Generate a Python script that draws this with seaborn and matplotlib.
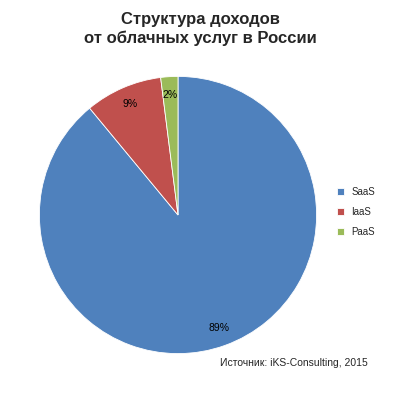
import matplotlib
matplotlib.use("Agg")
import matplotlib.pyplot as plt
import seaborn as sns

categories = ["SaaS", "IaaS", "PaaS"]
shares = [89, 9, 2]
colors = ["#4F81BD", "#C0504D", "#9BBB59"]

sns.set_theme(style="white")
plt.rcParams['font.family'] = ['Liberation Sans', 'DejaVu Sans']

fig = plt.figure(figsize=(4, 4), dpi=100)
ax = fig.add_axes([0.095, 0.1125, 0.70, 0.70])
wedges, texts, autotexts = ax.pie(
    shares, colors=colors, startangle=90, counterclock=False,
    autopct="%d%%", pctdistance=0.87,
    wedgeprops=dict(linewidth=0.6, edgecolor="white"),
    textprops=dict(fontsize=7.5, color="black"))
ax.set_xlim(-1.01, 1.01)
ax.set_ylim(-1.01, 1.01)
ax.set_aspect("equal")

fig.text(0.5, 0.97, "Структура доходов\nот облачных услуг в России",
         ha="center", va="top", fontsize=12, fontweight="bold", linespacing=1.3)
fig.legend(wedges, categories, loc="center left", bbox_to_anchor=(0.82, 0.47),
           frameon=False, fontsize=7, handlelength=0.7, handleheight=0.7,
           labelspacing=1.0)
fig.text(0.92, 0.085, "Источник: iKS-Consulting, 2015", ha="right",
         fontsize=7.5)

plt.savefig("out.png", dpi=100)
